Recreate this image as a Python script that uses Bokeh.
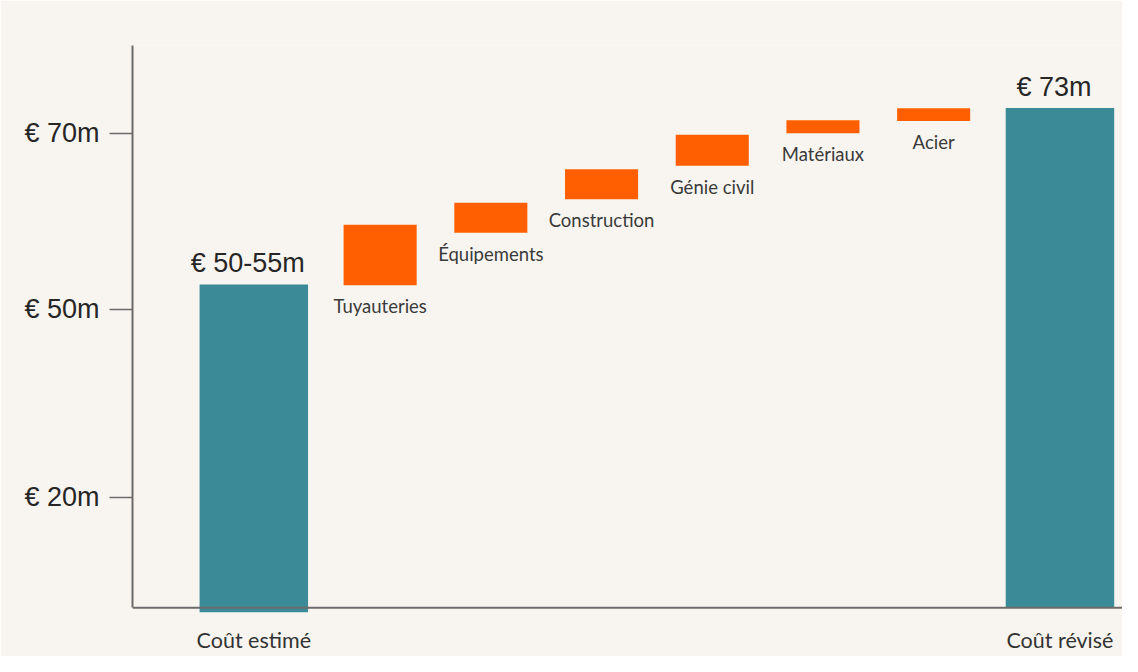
from bokeh.plotting import figure
from bokeh.models import Range1d, FixedTicker, Span, ColumnDataSource
from bokeh.embed import file_html
from bokeh.resources import INLINE
from bokeh.core.properties import value

# ---- data (values in € millions, schematic axis) ----
categories = ["Coût estimé", "Tuyauteries", "Équipements", "Construction",
              "Génie civil", "Matériaux", "Acier", "Coût révisé"]
groups = [0, 1, 1, 1, 1, 1, 1, 2]          # start / steps / end
kinds = ["total", "step", "step", "step", "step", "step", "step", "total"]
lows = [15.4, 52.7, 58.7, 62.5, 66.3, 70.0, 71.4, 16.0]
highs = [52.8, 59.6, 62.1, 65.9, 69.85, 71.5, 72.85, 72.9]
total_labels = ["€ 50-55m", "€ 73m"]

y_ticks = [28.6, 50, 70]
y_tick_labels = ["€ 20m", "€ 50m", "€ 70m"]

# ---- styling ----
BG = "#f8f5f0"
TEAL = "#3a8a97"
ORANGE = "#ff5f00"
AXIS = "#6b6b6b"
TXT = "#262626"
GAP = 0.141

xs = [i + GAP * g for i, g in enumerate(groups)]

tot_idx = [i for i, k in enumerate(kinds) if k == "total"]
step_idx = [i for i, k in enumerate(kinds) if k == "step"]

tot = ColumnDataSource(dict(
    x=[xs[i] for i in tot_idx], low=[lows[i] for i in tot_idx],
    high=[highs[i] for i in tot_idx], label=total_labels))
steps = ColumnDataSource(dict(
    x=[xs[i] for i in step_idx], low=[lows[i] for i in step_idx],
    high=[highs[i] for i in step_idx], name=[categories[i] for i in step_idx]))

p = figure(width=1122, height=656, output_backend="svg", toolbar_location=None,
           x_range=Range1d(-1.096, 7.847), y_range=Range1d(15.46, 80.0),
           min_border_left=132, min_border_right=0, min_border_top=45,
           min_border_bottom=44)
p.background_fill_color = BG
p.border_fill_color = BG
p.outline_line_color = None
p.grid.visible = False

p.vbar(x="x", bottom="low", top="high", width=0.98, source=tot,
       fill_color=TEAL, line_color=None)
p.vbar(x="x", bottom="low", top="high", width=0.66, source=steps,
       fill_color=ORANGE, line_color=None)

p.text(x="x", y="high", text="label", source=tot, text_align="center",
       text_baseline="bottom", y_offset=-6, x_offset=-6,
       text_font=value("Liberation Sans"), text_font_size="27px", text_color=TXT)
p.text(x="x", y="low", text="name", source=steps, text_align="center",
       text_baseline="top", y_offset=10,
       text_font=value("Lato"), text_font_size="18.5px", text_color="#3a3a3a")

# x axis line as a span at the schematic origin
p.add_layout(Span(location=16.0, dimension="width", line_color=AXIS, line_width=2))

# y axis
yax = p.yaxis[0]
yax.ticker = FixedTicker(ticks=y_ticks)
yax.major_label_overrides = dict(zip(y_ticks, y_tick_labels))
yax.bounds = (16, 80)
yax.axis_line_color = AXIS
yax.axis_line_width = 2
yax.major_tick_line_color = AXIS
yax.major_tick_line_width = 1.5
yax.major_tick_out = 23
yax.major_tick_in = 0
yax.minor_tick_line_color = None
yax.major_label_standoff = 10
yax.major_label_text_font = "Liberation Sans"
yax.major_label_text_font_size = "27px"
yax.major_label_text_color = TXT

# x axis (labels only)
xax = p.xaxis[0]
xax.ticker = FixedTicker(ticks=[xs[0], xs[-1]])
xax.major_label_overrides = {xs[0]: categories[0], xs[-1]: categories[-1]}
xax.axis_line_color = None
xax.major_tick_line_color = None
xax.minor_tick_line_color = None
xax.major_label_standoff = 8
xax.major_label_text_font = "Lato"
xax.major_label_text_font_size = "21.5px"
xax.major_label_text_color = "#333333"

open("out.html", "w").write(file_html(p, INLINE))
